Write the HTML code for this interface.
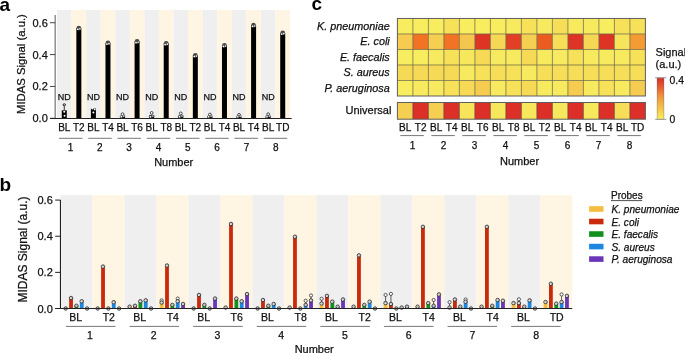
<!DOCTYPE html>
<html><head><meta charset="utf-8"><style>
html,body{margin:0;padding:0;background:#fff;width:685px;height:353px;overflow:hidden}
svg{display:block;font-family:"Liberation Sans", sans-serif;will-change:transform}
</style></head><body>
<svg width="685" height="353" viewBox="0 0 685 353">
<rect width="685" height="353" fill="#fff"/>
<rect x="57.00" y="10.00" width="14.58" height="108.30" fill="#efefef" />
<rect x="71.56" y="10.00" width="14.58" height="108.30" fill="#fff5e2" />
<rect x="86.12" y="10.00" width="14.58" height="108.30" fill="#efefef" />
<rect x="100.69" y="10.00" width="14.58" height="108.30" fill="#fff5e2" />
<rect x="115.25" y="10.00" width="14.58" height="108.30" fill="#efefef" />
<rect x="129.81" y="10.00" width="14.58" height="108.30" fill="#fff5e2" />
<rect x="144.38" y="10.00" width="14.58" height="108.30" fill="#efefef" />
<rect x="158.94" y="10.00" width="14.58" height="108.30" fill="#fff5e2" />
<rect x="173.50" y="10.00" width="14.58" height="108.30" fill="#efefef" />
<rect x="188.06" y="10.00" width="14.58" height="108.30" fill="#fff5e2" />
<rect x="202.62" y="10.00" width="14.58" height="108.30" fill="#efefef" />
<rect x="217.19" y="10.00" width="14.58" height="108.30" fill="#fff5e2" />
<rect x="231.75" y="10.00" width="14.58" height="108.30" fill="#efefef" />
<rect x="246.31" y="10.00" width="14.58" height="108.30" fill="#fff5e2" />
<rect x="260.88" y="10.00" width="14.58" height="108.30" fill="#efefef" />
<rect x="275.44" y="10.00" width="14.58" height="108.30" fill="#fff5e2" />
<line x1="55.20" y1="15.00" x2="55.20" y2="118.80" stroke="#888" stroke-width="1.4"/>
<line x1="50.00" y1="118.30" x2="55.20" y2="118.30" stroke="#444" stroke-width="1"/>
<text x="47.80" y="122.30" font-size="11" text-anchor="end" font-weight="normal" font-style="normal" fill="#111" stroke="#111" stroke-width="0.25" >0.0</text>
<line x1="50.00" y1="86.44" x2="55.20" y2="86.44" stroke="#444" stroke-width="1"/>
<text x="47.80" y="90.44" font-size="11" text-anchor="end" font-weight="normal" font-style="normal" fill="#111" stroke="#111" stroke-width="0.25" >0.2</text>
<line x1="50.00" y1="54.58" x2="55.20" y2="54.58" stroke="#444" stroke-width="1"/>
<text x="47.80" y="58.58" font-size="11" text-anchor="end" font-weight="normal" font-style="normal" fill="#111" stroke="#111" stroke-width="0.25" >0.4</text>
<line x1="50.00" y1="22.72" x2="55.20" y2="22.72" stroke="#444" stroke-width="1"/>
<text x="47.80" y="26.72" font-size="11" text-anchor="end" font-weight="normal" font-style="normal" fill="#111" stroke="#111" stroke-width="0.25" >0.6</text>
<rect x="61.78" y="110.33" width="5.00" height="7.97" fill="#000" />
<line x1="64.28" y1="110.33" x2="64.28" y2="104.60" stroke="#222" stroke-width="0.9"/>
<line x1="62.78" y1="104.60" x2="65.78" y2="104.60" stroke="#222" stroke-width="0.9"/>
<circle cx="64.28" cy="104.80" r="1.5" fill="#333" stroke="none" stroke-width="0"/>
<circle cx="64.28" cy="104.80" r="0.6" fill="#fff" stroke="none" stroke-width="0"/>
<circle cx="64.28" cy="111.80" r="1.0" fill="#fff" stroke="none" stroke-width="0"/>
<circle cx="64.58" cy="115.80" r="1.0" fill="#fff" stroke="none" stroke-width="0"/>
<rect x="76.34" y="28.14" width="5.00" height="90.16" fill="#000" />
<circle cx="78.84" cy="28.14" r="2.4" fill="#4a4a4a" stroke="none" stroke-width="0"/>
<circle cx="77.74" cy="29.24" r="0.85" fill="#fff" stroke="none" stroke-width="0"/>
<circle cx="79.94" cy="28.84" r="0.8" fill="#f4f4f4" stroke="none" stroke-width="0"/>
<text x="64.28" y="100.30" font-size="9" text-anchor="middle" font-weight="normal" font-style="normal" fill="#111" stroke="#111" stroke-width="0.25" >ND</text>
<text x="64.28" y="130.60" font-size="10" text-anchor="middle" font-weight="normal" font-style="normal" fill="#111" stroke="#111" stroke-width="0.25" >BL</text>
<text x="78.84" y="130.60" font-size="10" text-anchor="middle" font-weight="normal" font-style="normal" fill="#111" stroke="#111" stroke-width="0.25" >T2</text>
<line x1="59.01" y1="138.30" x2="82.51" y2="138.30" stroke="#777" stroke-width="1"/>
<text x="70.46" y="150.70" font-size="10" text-anchor="middle" font-weight="normal" font-style="normal" fill="#111" stroke="#111" stroke-width="0.25" >1</text>
<rect x="90.91" y="108.42" width="5.00" height="9.88" fill="#000" />
<circle cx="92.41" cy="108.60" r="1.0" fill="#fff" stroke="none" stroke-width="0"/>
<circle cx="94.71" cy="109.40" r="0.9" fill="#fff" stroke="none" stroke-width="0"/>
<circle cx="93.41" cy="112.60" r="1.0" fill="#fff" stroke="none" stroke-width="0"/>
<rect x="105.47" y="42.95" width="5.00" height="75.35" fill="#000" />
<circle cx="107.97" cy="42.95" r="2.4" fill="#4a4a4a" stroke="none" stroke-width="0"/>
<circle cx="106.87" cy="44.05" r="0.85" fill="#fff" stroke="none" stroke-width="0"/>
<circle cx="109.07" cy="43.65" r="0.8" fill="#f4f4f4" stroke="none" stroke-width="0"/>
<text x="93.41" y="100.30" font-size="9" text-anchor="middle" font-weight="normal" font-style="normal" fill="#111" stroke="#111" stroke-width="0.25" >ND</text>
<text x="93.41" y="130.60" font-size="10" text-anchor="middle" font-weight="normal" font-style="normal" fill="#111" stroke="#111" stroke-width="0.25" >BL</text>
<text x="107.97" y="130.60" font-size="10" text-anchor="middle" font-weight="normal" font-style="normal" fill="#111" stroke="#111" stroke-width="0.25" >T4</text>
<line x1="88.25" y1="138.30" x2="111.75" y2="138.30" stroke="#777" stroke-width="1"/>
<text x="99.79" y="150.70" font-size="10" text-anchor="middle" font-weight="normal" font-style="normal" fill="#111" stroke="#111" stroke-width="0.25" >2</text>
<rect x="120.03" y="116.39" width="5.00" height="1.91" fill="#000" />
<circle cx="122.53" cy="114.19" r="1.4" fill="#fff" stroke="#222" stroke-width="0.8"/>
<circle cx="121.33" cy="116.70" r="1.2" fill="#fff" stroke="#222" stroke-width="0.6"/>
<circle cx="123.73" cy="116.10" r="1.1" fill="#fff" stroke="#222" stroke-width="0.6"/>
<rect x="134.59" y="41.52" width="5.00" height="76.78" fill="#000" />
<circle cx="137.09" cy="41.52" r="2.4" fill="#4a4a4a" stroke="none" stroke-width="0"/>
<circle cx="135.99" cy="42.62" r="0.85" fill="#fff" stroke="none" stroke-width="0"/>
<circle cx="138.19" cy="42.22" r="0.8" fill="#f4f4f4" stroke="none" stroke-width="0"/>
<text x="122.53" y="100.30" font-size="9" text-anchor="middle" font-weight="normal" font-style="normal" fill="#111" stroke="#111" stroke-width="0.25" >ND</text>
<text x="122.53" y="130.60" font-size="10" text-anchor="middle" font-weight="normal" font-style="normal" fill="#111" stroke="#111" stroke-width="0.25" >BL</text>
<text x="137.09" y="130.60" font-size="10" text-anchor="middle" font-weight="normal" font-style="normal" fill="#111" stroke="#111" stroke-width="0.25" >T6</text>
<line x1="117.49" y1="138.30" x2="140.99" y2="138.30" stroke="#777" stroke-width="1"/>
<text x="129.13" y="150.70" font-size="10" text-anchor="middle" font-weight="normal" font-style="normal" fill="#111" stroke="#111" stroke-width="0.25" >3</text>
<rect x="149.16" y="115.11" width="5.00" height="3.19" fill="#000" />
<circle cx="151.66" cy="112.91" r="1.4" fill="#fff" stroke="#222" stroke-width="0.8"/>
<circle cx="150.46" cy="116.70" r="1.2" fill="#fff" stroke="#222" stroke-width="0.6"/>
<circle cx="152.86" cy="116.10" r="1.1" fill="#fff" stroke="#222" stroke-width="0.6"/>
<rect x="163.72" y="43.43" width="5.00" height="74.87" fill="#000" />
<circle cx="166.22" cy="43.43" r="2.4" fill="#4a4a4a" stroke="none" stroke-width="0"/>
<circle cx="165.12" cy="44.53" r="0.85" fill="#fff" stroke="none" stroke-width="0"/>
<circle cx="167.32" cy="44.13" r="0.8" fill="#f4f4f4" stroke="none" stroke-width="0"/>
<text x="151.66" y="100.30" font-size="9" text-anchor="middle" font-weight="normal" font-style="normal" fill="#111" stroke="#111" stroke-width="0.25" >ND</text>
<text x="151.66" y="130.60" font-size="10" text-anchor="middle" font-weight="normal" font-style="normal" fill="#111" stroke="#111" stroke-width="0.25" >BL</text>
<text x="166.22" y="130.60" font-size="10" text-anchor="middle" font-weight="normal" font-style="normal" fill="#111" stroke="#111" stroke-width="0.25" >T8</text>
<line x1="146.73" y1="138.30" x2="170.23" y2="138.30" stroke="#777" stroke-width="1"/>
<text x="158.46" y="150.70" font-size="10" text-anchor="middle" font-weight="normal" font-style="normal" fill="#111" stroke="#111" stroke-width="0.25" >4</text>
<rect x="178.28" y="115.59" width="5.00" height="2.71" fill="#000" />
<circle cx="180.78" cy="113.39" r="1.4" fill="#fff" stroke="#222" stroke-width="0.8"/>
<circle cx="179.58" cy="116.70" r="1.2" fill="#fff" stroke="#222" stroke-width="0.6"/>
<circle cx="181.98" cy="116.10" r="1.1" fill="#fff" stroke="#222" stroke-width="0.6"/>
<rect x="192.84" y="55.38" width="5.00" height="62.92" fill="#000" />
<circle cx="195.34" cy="55.38" r="2.4" fill="#4a4a4a" stroke="none" stroke-width="0"/>
<circle cx="194.24" cy="56.48" r="0.85" fill="#fff" stroke="none" stroke-width="0"/>
<circle cx="196.44" cy="56.08" r="0.8" fill="#f4f4f4" stroke="none" stroke-width="0"/>
<text x="180.78" y="100.30" font-size="9" text-anchor="middle" font-weight="normal" font-style="normal" fill="#111" stroke="#111" stroke-width="0.25" >ND</text>
<text x="180.78" y="130.60" font-size="10" text-anchor="middle" font-weight="normal" font-style="normal" fill="#111" stroke="#111" stroke-width="0.25" >BL</text>
<text x="195.34" y="130.60" font-size="10" text-anchor="middle" font-weight="normal" font-style="normal" fill="#111" stroke="#111" stroke-width="0.25" >T2</text>
<line x1="175.97" y1="138.30" x2="199.47" y2="138.30" stroke="#777" stroke-width="1"/>
<text x="187.80" y="150.70" font-size="10" text-anchor="middle" font-weight="normal" font-style="normal" fill="#111" stroke="#111" stroke-width="0.25" >5</text>
<rect x="207.41" y="116.71" width="5.00" height="1.59" fill="#000" />
<circle cx="209.91" cy="114.51" r="1.4" fill="#fff" stroke="#222" stroke-width="0.8"/>
<circle cx="208.71" cy="116.70" r="1.2" fill="#fff" stroke="#222" stroke-width="0.6"/>
<circle cx="211.11" cy="116.10" r="1.1" fill="#fff" stroke="#222" stroke-width="0.6"/>
<rect x="221.97" y="45.34" width="5.00" height="72.96" fill="#000" />
<circle cx="224.47" cy="45.34" r="2.4" fill="#4a4a4a" stroke="none" stroke-width="0"/>
<circle cx="223.37" cy="46.44" r="0.85" fill="#fff" stroke="none" stroke-width="0"/>
<circle cx="225.57" cy="46.04" r="0.8" fill="#f4f4f4" stroke="none" stroke-width="0"/>
<text x="209.91" y="100.30" font-size="9" text-anchor="middle" font-weight="normal" font-style="normal" fill="#111" stroke="#111" stroke-width="0.25" >ND</text>
<text x="209.91" y="130.60" font-size="10" text-anchor="middle" font-weight="normal" font-style="normal" fill="#111" stroke="#111" stroke-width="0.25" >BL</text>
<text x="224.47" y="130.60" font-size="10" text-anchor="middle" font-weight="normal" font-style="normal" fill="#111" stroke="#111" stroke-width="0.25" >T4</text>
<line x1="205.21" y1="138.30" x2="228.71" y2="138.30" stroke="#777" stroke-width="1"/>
<text x="217.13" y="150.70" font-size="10" text-anchor="middle" font-weight="normal" font-style="normal" fill="#111" stroke="#111" stroke-width="0.25" >6</text>
<rect x="236.53" y="117.03" width="5.00" height="1.27" fill="#000" />
<circle cx="239.03" cy="114.83" r="1.4" fill="#fff" stroke="#222" stroke-width="0.8"/>
<circle cx="237.83" cy="116.70" r="1.2" fill="#fff" stroke="#222" stroke-width="0.6"/>
<circle cx="240.23" cy="116.10" r="1.1" fill="#fff" stroke="#222" stroke-width="0.6"/>
<rect x="251.09" y="25.27" width="5.00" height="93.03" fill="#000" />
<circle cx="253.59" cy="25.27" r="2.4" fill="#4a4a4a" stroke="none" stroke-width="0"/>
<circle cx="252.49" cy="26.37" r="0.85" fill="#fff" stroke="none" stroke-width="0"/>
<circle cx="254.69" cy="25.97" r="0.8" fill="#f4f4f4" stroke="none" stroke-width="0"/>
<text x="239.03" y="100.30" font-size="9" text-anchor="middle" font-weight="normal" font-style="normal" fill="#111" stroke="#111" stroke-width="0.25" >ND</text>
<text x="239.03" y="130.60" font-size="10" text-anchor="middle" font-weight="normal" font-style="normal" fill="#111" stroke="#111" stroke-width="0.25" >BL</text>
<text x="253.59" y="130.60" font-size="10" text-anchor="middle" font-weight="normal" font-style="normal" fill="#111" stroke="#111" stroke-width="0.25" >T4</text>
<line x1="234.45" y1="138.30" x2="257.95" y2="138.30" stroke="#777" stroke-width="1"/>
<text x="246.47" y="150.70" font-size="10" text-anchor="middle" font-weight="normal" font-style="normal" fill="#111" stroke="#111" stroke-width="0.25" >7</text>
<rect x="265.66" y="116.39" width="5.00" height="1.91" fill="#000" />
<circle cx="268.16" cy="114.19" r="1.4" fill="#fff" stroke="#222" stroke-width="0.8"/>
<circle cx="266.96" cy="116.70" r="1.2" fill="#fff" stroke="#222" stroke-width="0.6"/>
<circle cx="269.36" cy="116.10" r="1.1" fill="#fff" stroke="#222" stroke-width="0.6"/>
<rect x="280.22" y="32.92" width="5.00" height="85.38" fill="#000" />
<circle cx="282.72" cy="32.92" r="2.4" fill="#4a4a4a" stroke="none" stroke-width="0"/>
<circle cx="281.62" cy="34.02" r="0.85" fill="#fff" stroke="none" stroke-width="0"/>
<circle cx="283.82" cy="33.62" r="0.8" fill="#f4f4f4" stroke="none" stroke-width="0"/>
<text x="268.16" y="100.30" font-size="9" text-anchor="middle" font-weight="normal" font-style="normal" fill="#111" stroke="#111" stroke-width="0.25" >ND</text>
<text x="268.16" y="130.60" font-size="10" text-anchor="middle" font-weight="normal" font-style="normal" fill="#111" stroke="#111" stroke-width="0.25" >BL</text>
<text x="282.72" y="130.60" font-size="10" text-anchor="middle" font-weight="normal" font-style="normal" fill="#111" stroke="#111" stroke-width="0.25" >TD</text>
<line x1="263.69" y1="138.30" x2="287.19" y2="138.30" stroke="#777" stroke-width="1"/>
<text x="275.81" y="150.70" font-size="10" text-anchor="middle" font-weight="normal" font-style="normal" fill="#111" stroke="#111" stroke-width="0.25" >8</text>
<line x1="50.00" y1="118.50" x2="291.70" y2="118.50" stroke="#222" stroke-width="1.2"/>
<text x="173.70" y="165.60" font-size="11" text-anchor="middle" font-weight="normal" font-style="normal" fill="#111" stroke="#111" stroke-width="0.25" >Number</text>
<text x="-0.50" y="10.60" font-size="19" text-anchor="start" font-weight="bold" font-style="normal" fill="#000" >a</text>
<text x="0.00" y="0.00" font-size="11.3" text-anchor="middle" font-weight="normal" font-style="normal" fill="#111" stroke="#111" stroke-width="0.25" transform="translate(25.3,64.1) rotate(-90)">MIDAS Signal (a.u.)</text>
<rect x="60.40" y="195.20" width="32.01" height="113.30" fill="#efefef" />
<rect x="92.39" y="195.20" width="32.01" height="113.30" fill="#fff5e2" />
<rect x="124.38" y="195.20" width="32.01" height="113.30" fill="#efefef" />
<rect x="156.37" y="195.20" width="32.01" height="113.30" fill="#fff5e2" />
<rect x="188.36" y="195.20" width="32.01" height="113.30" fill="#efefef" />
<rect x="220.35" y="195.20" width="32.01" height="113.30" fill="#fff5e2" />
<rect x="252.34" y="195.20" width="32.01" height="113.30" fill="#efefef" />
<rect x="284.33" y="195.20" width="32.01" height="113.30" fill="#fff5e2" />
<rect x="316.32" y="195.20" width="32.01" height="113.30" fill="#efefef" />
<rect x="348.31" y="195.20" width="32.01" height="113.30" fill="#fff5e2" />
<rect x="380.30" y="195.20" width="32.01" height="113.30" fill="#efefef" />
<rect x="412.29" y="195.20" width="32.01" height="113.30" fill="#fff5e2" />
<rect x="444.28" y="195.20" width="32.01" height="113.30" fill="#efefef" />
<rect x="476.27" y="195.20" width="32.01" height="113.30" fill="#fff5e2" />
<rect x="508.26" y="195.20" width="32.01" height="113.30" fill="#efefef" />
<rect x="540.25" y="195.20" width="32.01" height="113.30" fill="#fff5e2" />
<line x1="60.45" y1="200.10" x2="60.45" y2="309.00" stroke="#222" stroke-width="1.1"/>
<line x1="55.20" y1="308.50" x2="60.45" y2="308.50" stroke="#222" stroke-width="1"/>
<text x="52.80" y="312.50" font-size="11" text-anchor="end" font-weight="normal" font-style="normal" fill="#111" stroke="#111" stroke-width="0.25" >0.0</text>
<line x1="55.20" y1="272.36" x2="60.45" y2="272.36" stroke="#222" stroke-width="1"/>
<text x="52.80" y="276.36" font-size="11" text-anchor="end" font-weight="normal" font-style="normal" fill="#111" stroke="#111" stroke-width="0.25" >0.2</text>
<line x1="55.20" y1="236.22" x2="60.45" y2="236.22" stroke="#222" stroke-width="1"/>
<text x="52.80" y="240.22" font-size="11" text-anchor="end" font-weight="normal" font-style="normal" fill="#111" stroke="#111" stroke-width="0.25" >0.4</text>
<line x1="55.20" y1="200.08" x2="60.45" y2="200.08" stroke="#222" stroke-width="1"/>
<text x="52.80" y="204.08" font-size="11" text-anchor="end" font-weight="normal" font-style="normal" fill="#111" stroke="#111" stroke-width="0.25" >0.6</text>
<circle cx="65.69" cy="308.50" r="1.75" fill="#c4c4c4" stroke="#333" stroke-width="0.85"/>
<rect x="69.14" y="298.02" width="3.80" height="10.48" fill="#c92a0c" />
<circle cx="71.05" cy="298.02" r="1.75" fill="#c4c4c4" stroke="#333" stroke-width="0.85"/>
<circle cx="70.55" cy="298.32" r="0.7" fill="#e8e8e8" stroke="none" stroke-width="0"/>
<rect x="74.49" y="305.79" width="3.80" height="2.71" fill="#12901f" />
<circle cx="76.39" cy="305.79" r="1.75" fill="#c4c4c4" stroke="#333" stroke-width="0.85"/>
<rect x="79.84" y="301.27" width="3.80" height="7.23" fill="#1f86e0" />
<circle cx="81.74" cy="301.27" r="1.75" fill="#c4c4c4" stroke="#333" stroke-width="0.85"/>
<circle cx="81.24" cy="301.57" r="0.7" fill="#e8e8e8" stroke="none" stroke-width="0"/>
<circle cx="87.09" cy="308.50" r="1.75" fill="#c4c4c4" stroke="#333" stroke-width="0.85"/>
<circle cx="97.68" cy="308.50" r="1.75" fill="#c4c4c4" stroke="#333" stroke-width="0.85"/>
<rect x="101.13" y="266.58" width="3.80" height="41.92" fill="#c92a0c" />
<circle cx="103.03" cy="266.58" r="1.75" fill="#c4c4c4" stroke="#333" stroke-width="0.85"/>
<circle cx="102.53" cy="266.88" r="0.7" fill="#e8e8e8" stroke="none" stroke-width="0"/>
<circle cx="108.38" cy="308.50" r="1.75" fill="#c4c4c4" stroke="#333" stroke-width="0.85"/>
<rect x="111.83" y="302.18" width="3.80" height="6.32" fill="#1f86e0" />
<circle cx="113.73" cy="302.18" r="1.75" fill="#c4c4c4" stroke="#333" stroke-width="0.85"/>
<circle cx="113.23" cy="302.48" r="0.7" fill="#e8e8e8" stroke="none" stroke-width="0"/>
<circle cx="119.08" cy="308.50" r="1.75" fill="#c4c4c4" stroke="#333" stroke-width="0.85"/>
<rect x="127.78" y="306.69" width="3.80" height="1.81" fill="#f5bd3f" />
<circle cx="129.68" cy="306.69" r="1.75" fill="#c4c4c4" stroke="#333" stroke-width="0.85"/>
<rect x="133.12" y="305.79" width="3.80" height="2.71" fill="#c92a0c" />
<circle cx="135.03" cy="305.79" r="1.75" fill="#c4c4c4" stroke="#333" stroke-width="0.85"/>
<rect x="138.47" y="301.27" width="3.80" height="7.23" fill="#12901f" />
<circle cx="140.38" cy="301.27" r="1.75" fill="#c4c4c4" stroke="#333" stroke-width="0.85"/>
<circle cx="139.88" cy="301.57" r="0.7" fill="#e8e8e8" stroke="none" stroke-width="0"/>
<rect x="143.82" y="300.37" width="3.80" height="8.13" fill="#1f86e0" />
<circle cx="145.72" cy="300.37" r="1.75" fill="#c4c4c4" stroke="#333" stroke-width="0.85"/>
<circle cx="145.22" cy="300.67" r="0.7" fill="#e8e8e8" stroke="none" stroke-width="0"/>
<circle cx="151.07" cy="308.50" r="1.75" fill="#c4c4c4" stroke="#333" stroke-width="0.85"/>
<rect x="159.76" y="302.54" width="3.80" height="5.96" fill="#f5bd3f" />
<line x1="161.66" y1="302.54" x2="161.66" y2="300.37" stroke="#333" stroke-width="0.8"/>
<circle cx="161.66" cy="300.37" r="1.6" fill="#fff" stroke="#333" stroke-width="0.8"/>
<circle cx="161.66" cy="302.54" r="1.75" fill="#c4c4c4" stroke="#333" stroke-width="0.85"/>
<circle cx="161.16" cy="302.84" r="0.7" fill="#e8e8e8" stroke="none" stroke-width="0"/>
<rect x="165.11" y="265.49" width="3.80" height="43.01" fill="#c92a0c" />
<circle cx="167.01" cy="265.49" r="1.75" fill="#c4c4c4" stroke="#333" stroke-width="0.85"/>
<circle cx="166.51" cy="265.79" r="0.7" fill="#e8e8e8" stroke="none" stroke-width="0"/>
<rect x="170.46" y="304.89" width="3.80" height="3.61" fill="#12901f" />
<circle cx="172.36" cy="304.89" r="1.75" fill="#c4c4c4" stroke="#333" stroke-width="0.85"/>
<rect x="175.81" y="301.27" width="3.80" height="7.23" fill="#1f86e0" />
<line x1="177.71" y1="301.27" x2="177.71" y2="298.56" stroke="#333" stroke-width="0.8"/>
<circle cx="177.71" cy="298.56" r="1.6" fill="#fff" stroke="#333" stroke-width="0.8"/>
<circle cx="177.71" cy="301.27" r="1.75" fill="#c4c4c4" stroke="#333" stroke-width="0.85"/>
<circle cx="177.21" cy="301.57" r="0.7" fill="#e8e8e8" stroke="none" stroke-width="0"/>
<rect x="181.16" y="303.98" width="3.80" height="4.52" fill="#6a36b8" />
<circle cx="183.06" cy="303.98" r="1.75" fill="#c4c4c4" stroke="#333" stroke-width="0.85"/>
<circle cx="182.56" cy="304.28" r="0.7" fill="#e8e8e8" stroke="none" stroke-width="0"/>
<circle cx="193.66" cy="308.50" r="1.75" fill="#c4c4c4" stroke="#333" stroke-width="0.85"/>
<rect x="197.10" y="294.95" width="3.80" height="13.55" fill="#c92a0c" />
<circle cx="199.00" cy="294.95" r="1.75" fill="#c4c4c4" stroke="#333" stroke-width="0.85"/>
<circle cx="198.50" cy="295.25" r="0.7" fill="#e8e8e8" stroke="none" stroke-width="0"/>
<rect x="202.45" y="304.89" width="3.80" height="3.61" fill="#12901f" />
<circle cx="204.35" cy="304.89" r="1.75" fill="#c4c4c4" stroke="#333" stroke-width="0.85"/>
<circle cx="209.70" cy="308.50" r="1.75" fill="#c4c4c4" stroke="#333" stroke-width="0.85"/>
<rect x="213.15" y="298.56" width="3.80" height="9.94" fill="#6a36b8" />
<circle cx="215.05" cy="298.56" r="1.75" fill="#c4c4c4" stroke="#333" stroke-width="0.85"/>
<circle cx="214.55" cy="298.86" r="0.7" fill="#e8e8e8" stroke="none" stroke-width="0"/>
<rect x="223.75" y="307.60" width="3.80" height="0.90" fill="#f5bd3f" />
<circle cx="225.65" cy="307.60" r="1.75" fill="#c4c4c4" stroke="#333" stroke-width="0.85"/>
<rect x="229.09" y="223.93" width="3.80" height="84.57" fill="#c92a0c" />
<circle cx="231.00" cy="223.93" r="1.75" fill="#c4c4c4" stroke="#333" stroke-width="0.85"/>
<circle cx="230.50" cy="224.23" r="0.7" fill="#e8e8e8" stroke="none" stroke-width="0"/>
<rect x="234.44" y="298.56" width="3.80" height="9.94" fill="#12901f" />
<circle cx="236.34" cy="298.56" r="1.75" fill="#c4c4c4" stroke="#333" stroke-width="0.85"/>
<circle cx="235.84" cy="298.86" r="0.7" fill="#e8e8e8" stroke="none" stroke-width="0"/>
<rect x="239.79" y="301.27" width="3.80" height="7.23" fill="#1f86e0" />
<circle cx="241.69" cy="301.27" r="1.75" fill="#c4c4c4" stroke="#333" stroke-width="0.85"/>
<circle cx="241.19" cy="301.57" r="0.7" fill="#e8e8e8" stroke="none" stroke-width="0"/>
<rect x="245.14" y="294.04" width="3.80" height="14.46" fill="#6a36b8" />
<circle cx="247.04" cy="294.04" r="1.75" fill="#c4c4c4" stroke="#333" stroke-width="0.85"/>
<circle cx="246.54" cy="294.34" r="0.7" fill="#e8e8e8" stroke="none" stroke-width="0"/>
<circle cx="257.63" cy="308.50" r="1.75" fill="#c4c4c4" stroke="#333" stroke-width="0.85"/>
<rect x="261.08" y="300.01" width="3.80" height="8.49" fill="#c92a0c" />
<circle cx="262.98" cy="300.01" r="1.75" fill="#c4c4c4" stroke="#333" stroke-width="0.85"/>
<circle cx="262.48" cy="300.31" r="0.7" fill="#e8e8e8" stroke="none" stroke-width="0"/>
<rect x="266.44" y="305.79" width="3.80" height="2.71" fill="#12901f" />
<circle cx="268.33" cy="305.79" r="1.75" fill="#c4c4c4" stroke="#333" stroke-width="0.85"/>
<rect x="271.79" y="303.98" width="3.80" height="4.52" fill="#1f86e0" />
<circle cx="273.69" cy="303.98" r="1.75" fill="#c4c4c4" stroke="#333" stroke-width="0.85"/>
<circle cx="273.19" cy="304.28" r="0.7" fill="#e8e8e8" stroke="none" stroke-width="0"/>
<circle cx="279.03" cy="308.50" r="1.75" fill="#c4c4c4" stroke="#333" stroke-width="0.85"/>
<rect x="287.73" y="307.60" width="3.80" height="0.90" fill="#f5bd3f" />
<circle cx="289.62" cy="307.60" r="1.75" fill="#c4c4c4" stroke="#333" stroke-width="0.85"/>
<rect x="293.07" y="236.76" width="3.80" height="71.74" fill="#c92a0c" />
<circle cx="294.97" cy="236.76" r="1.75" fill="#c4c4c4" stroke="#333" stroke-width="0.85"/>
<circle cx="294.47" cy="237.06" r="0.7" fill="#e8e8e8" stroke="none" stroke-width="0"/>
<circle cx="300.32" cy="308.50" r="1.75" fill="#c4c4c4" stroke="#333" stroke-width="0.85"/>
<rect x="303.78" y="304.89" width="3.80" height="3.61" fill="#1f86e0" />
<line x1="305.68" y1="304.89" x2="305.68" y2="300.73" stroke="#333" stroke-width="0.8"/>
<circle cx="305.68" cy="300.73" r="1.6" fill="#fff" stroke="#333" stroke-width="0.8"/>
<circle cx="305.68" cy="304.89" r="1.75" fill="#c4c4c4" stroke="#333" stroke-width="0.85"/>
<rect x="309.12" y="300.37" width="3.80" height="8.13" fill="#6a36b8" />
<line x1="311.02" y1="300.37" x2="311.02" y2="295.49" stroke="#333" stroke-width="0.8"/>
<circle cx="311.02" cy="295.49" r="1.6" fill="#fff" stroke="#333" stroke-width="0.8"/>
<circle cx="311.02" cy="300.37" r="1.75" fill="#c4c4c4" stroke="#333" stroke-width="0.85"/>
<circle cx="310.52" cy="300.67" r="0.7" fill="#e8e8e8" stroke="none" stroke-width="0"/>
<rect x="319.71" y="303.44" width="3.80" height="5.06" fill="#f5bd3f" />
<line x1="321.61" y1="303.44" x2="321.61" y2="298.74" stroke="#333" stroke-width="0.8"/>
<circle cx="321.61" cy="298.74" r="1.6" fill="#fff" stroke="#333" stroke-width="0.8"/>
<circle cx="321.61" cy="303.44" r="1.75" fill="#c4c4c4" stroke="#333" stroke-width="0.85"/>
<circle cx="321.11" cy="303.74" r="0.7" fill="#e8e8e8" stroke="none" stroke-width="0"/>
<rect x="325.06" y="295.85" width="3.80" height="12.65" fill="#c92a0c" />
<circle cx="326.96" cy="295.85" r="1.75" fill="#c4c4c4" stroke="#333" stroke-width="0.85"/>
<circle cx="326.46" cy="296.15" r="0.7" fill="#e8e8e8" stroke="none" stroke-width="0"/>
<rect x="330.41" y="301.63" width="3.80" height="6.87" fill="#12901f" />
<circle cx="332.31" cy="301.63" r="1.75" fill="#c4c4c4" stroke="#333" stroke-width="0.85"/>
<circle cx="331.81" cy="301.93" r="0.7" fill="#e8e8e8" stroke="none" stroke-width="0"/>
<rect x="335.76" y="306.69" width="3.80" height="1.81" fill="#1f86e0" />
<circle cx="337.66" cy="306.69" r="1.75" fill="#c4c4c4" stroke="#333" stroke-width="0.85"/>
<rect x="341.11" y="299.46" width="3.80" height="9.04" fill="#6a36b8" />
<circle cx="343.01" cy="299.46" r="1.75" fill="#c4c4c4" stroke="#333" stroke-width="0.85"/>
<circle cx="342.51" cy="299.76" r="0.7" fill="#e8e8e8" stroke="none" stroke-width="0"/>
<rect x="351.70" y="306.69" width="3.80" height="1.81" fill="#f5bd3f" />
<circle cx="353.60" cy="306.69" r="1.75" fill="#c4c4c4" stroke="#333" stroke-width="0.85"/>
<rect x="357.05" y="255.37" width="3.80" height="53.13" fill="#c92a0c" />
<circle cx="358.95" cy="255.37" r="1.75" fill="#c4c4c4" stroke="#333" stroke-width="0.85"/>
<circle cx="358.45" cy="255.67" r="0.7" fill="#e8e8e8" stroke="none" stroke-width="0"/>
<rect x="362.40" y="304.89" width="3.80" height="3.61" fill="#12901f" />
<circle cx="364.30" cy="304.89" r="1.75" fill="#c4c4c4" stroke="#333" stroke-width="0.85"/>
<rect x="367.75" y="301.63" width="3.80" height="6.87" fill="#1f86e0" />
<circle cx="369.65" cy="301.63" r="1.75" fill="#c4c4c4" stroke="#333" stroke-width="0.85"/>
<circle cx="369.15" cy="301.93" r="0.7" fill="#e8e8e8" stroke="none" stroke-width="0"/>
<circle cx="375.00" cy="308.50" r="1.75" fill="#c4c4c4" stroke="#333" stroke-width="0.85"/>
<rect x="383.69" y="303.08" width="3.80" height="5.42" fill="#f5bd3f" />
<line x1="385.59" y1="303.08" x2="385.59" y2="294.95" stroke="#333" stroke-width="0.8"/>
<circle cx="385.59" cy="294.95" r="1.6" fill="#fff" stroke="#333" stroke-width="0.8"/>
<circle cx="385.59" cy="303.08" r="1.75" fill="#c4c4c4" stroke="#333" stroke-width="0.85"/>
<circle cx="385.09" cy="303.38" r="0.7" fill="#e8e8e8" stroke="none" stroke-width="0"/>
<rect x="389.04" y="303.98" width="3.80" height="4.52" fill="#c92a0c" />
<line x1="390.94" y1="303.98" x2="390.94" y2="293.86" stroke="#333" stroke-width="0.8"/>
<circle cx="390.94" cy="293.86" r="1.6" fill="#fff" stroke="#333" stroke-width="0.8"/>
<circle cx="390.94" cy="303.98" r="1.75" fill="#c4c4c4" stroke="#333" stroke-width="0.85"/>
<circle cx="390.44" cy="304.28" r="0.7" fill="#e8e8e8" stroke="none" stroke-width="0"/>
<circle cx="396.29" cy="308.50" r="1.75" fill="#c4c4c4" stroke="#333" stroke-width="0.85"/>
<rect x="399.75" y="307.60" width="3.80" height="0.90" fill="#1f86e0" />
<circle cx="401.64" cy="307.60" r="1.75" fill="#c4c4c4" stroke="#333" stroke-width="0.85"/>
<rect x="405.09" y="306.69" width="3.80" height="1.81" fill="#6a36b8" />
<circle cx="406.99" cy="306.69" r="1.75" fill="#c4c4c4" stroke="#333" stroke-width="0.85"/>
<rect x="415.69" y="306.69" width="3.80" height="1.81" fill="#f5bd3f" />
<circle cx="417.58" cy="306.69" r="1.75" fill="#c4c4c4" stroke="#333" stroke-width="0.85"/>
<rect x="421.03" y="226.82" width="3.80" height="81.68" fill="#c92a0c" />
<circle cx="422.93" cy="226.82" r="1.75" fill="#c4c4c4" stroke="#333" stroke-width="0.85"/>
<circle cx="422.43" cy="227.12" r="0.7" fill="#e8e8e8" stroke="none" stroke-width="0"/>
<rect x="426.38" y="303.08" width="3.80" height="5.42" fill="#12901f" />
<circle cx="428.28" cy="303.08" r="1.75" fill="#c4c4c4" stroke="#333" stroke-width="0.85"/>
<circle cx="427.78" cy="303.38" r="0.7" fill="#e8e8e8" stroke="none" stroke-width="0"/>
<rect x="431.74" y="305.79" width="3.80" height="2.71" fill="#1f86e0" />
<line x1="433.63" y1="305.79" x2="433.63" y2="300.01" stroke="#333" stroke-width="0.8"/>
<circle cx="433.63" cy="300.01" r="1.6" fill="#fff" stroke="#333" stroke-width="0.8"/>
<circle cx="433.63" cy="305.79" r="1.75" fill="#c4c4c4" stroke="#333" stroke-width="0.85"/>
<rect x="437.08" y="294.41" width="3.80" height="14.09" fill="#6a36b8" />
<circle cx="438.98" cy="294.41" r="1.75" fill="#c4c4c4" stroke="#333" stroke-width="0.85"/>
<circle cx="438.48" cy="294.71" r="0.7" fill="#e8e8e8" stroke="none" stroke-width="0"/>
<rect x="447.68" y="307.60" width="3.80" height="0.90" fill="#f5bd3f" />
<line x1="449.57" y1="307.60" x2="449.57" y2="302.18" stroke="#333" stroke-width="0.8"/>
<circle cx="449.57" cy="302.18" r="1.6" fill="#fff" stroke="#333" stroke-width="0.8"/>
<circle cx="449.57" cy="307.60" r="1.75" fill="#c4c4c4" stroke="#333" stroke-width="0.85"/>
<rect x="453.02" y="299.46" width="3.80" height="9.04" fill="#c92a0c" />
<circle cx="454.92" cy="299.46" r="1.75" fill="#c4c4c4" stroke="#333" stroke-width="0.85"/>
<circle cx="454.42" cy="299.76" r="0.7" fill="#e8e8e8" stroke="none" stroke-width="0"/>
<rect x="458.38" y="306.69" width="3.80" height="1.81" fill="#12901f" />
<circle cx="460.27" cy="306.69" r="1.75" fill="#c4c4c4" stroke="#333" stroke-width="0.85"/>
<rect x="463.73" y="301.63" width="3.80" height="6.87" fill="#1f86e0" />
<line x1="465.62" y1="301.63" x2="465.62" y2="299.46" stroke="#333" stroke-width="0.8"/>
<circle cx="465.62" cy="299.46" r="1.6" fill="#fff" stroke="#333" stroke-width="0.8"/>
<circle cx="465.62" cy="301.63" r="1.75" fill="#c4c4c4" stroke="#333" stroke-width="0.85"/>
<circle cx="465.12" cy="301.93" r="0.7" fill="#e8e8e8" stroke="none" stroke-width="0"/>
<circle cx="470.97" cy="308.50" r="1.75" fill="#c4c4c4" stroke="#333" stroke-width="0.85"/>
<rect x="479.66" y="306.69" width="3.80" height="1.81" fill="#f5bd3f" />
<circle cx="481.56" cy="306.69" r="1.75" fill="#c4c4c4" stroke="#333" stroke-width="0.85"/>
<rect x="485.01" y="226.82" width="3.80" height="81.68" fill="#c92a0c" />
<circle cx="486.91" cy="226.82" r="1.75" fill="#c4c4c4" stroke="#333" stroke-width="0.85"/>
<circle cx="486.41" cy="227.12" r="0.7" fill="#e8e8e8" stroke="none" stroke-width="0"/>
<rect x="490.36" y="305.79" width="3.80" height="2.71" fill="#12901f" />
<circle cx="492.26" cy="305.79" r="1.75" fill="#c4c4c4" stroke="#333" stroke-width="0.85"/>
<rect x="495.71" y="300.01" width="3.80" height="8.49" fill="#1f86e0" />
<circle cx="497.61" cy="300.01" r="1.75" fill="#c4c4c4" stroke="#333" stroke-width="0.85"/>
<circle cx="497.11" cy="300.31" r="0.7" fill="#e8e8e8" stroke="none" stroke-width="0"/>
<rect x="501.06" y="300.73" width="3.80" height="7.77" fill="#6a36b8" />
<circle cx="502.96" cy="300.73" r="1.75" fill="#c4c4c4" stroke="#333" stroke-width="0.85"/>
<circle cx="502.46" cy="301.03" r="0.7" fill="#e8e8e8" stroke="none" stroke-width="0"/>
<rect x="511.65" y="303.08" width="3.80" height="5.42" fill="#f5bd3f" />
<circle cx="513.55" cy="303.08" r="1.75" fill="#c4c4c4" stroke="#333" stroke-width="0.85"/>
<circle cx="513.05" cy="303.38" r="0.7" fill="#e8e8e8" stroke="none" stroke-width="0"/>
<rect x="517.00" y="303.08" width="3.80" height="5.42" fill="#c92a0c" />
<line x1="518.90" y1="303.08" x2="518.90" y2="299.28" stroke="#333" stroke-width="0.8"/>
<circle cx="518.90" cy="299.28" r="1.6" fill="#fff" stroke="#333" stroke-width="0.8"/>
<circle cx="518.90" cy="303.08" r="1.75" fill="#c4c4c4" stroke="#333" stroke-width="0.85"/>
<circle cx="518.40" cy="303.38" r="0.7" fill="#e8e8e8" stroke="none" stroke-width="0"/>
<rect x="522.36" y="306.69" width="3.80" height="1.81" fill="#12901f" />
<circle cx="524.25" cy="306.69" r="1.75" fill="#c4c4c4" stroke="#333" stroke-width="0.85"/>
<rect x="527.71" y="300.37" width="3.80" height="8.13" fill="#1f86e0" />
<circle cx="529.61" cy="300.37" r="1.75" fill="#c4c4c4" stroke="#333" stroke-width="0.85"/>
<circle cx="529.11" cy="300.67" r="0.7" fill="#e8e8e8" stroke="none" stroke-width="0"/>
<circle cx="534.96" cy="308.50" r="1.75" fill="#c4c4c4" stroke="#333" stroke-width="0.85"/>
<rect x="543.64" y="301.99" width="3.80" height="6.51" fill="#f5bd3f" />
<circle cx="545.54" cy="301.99" r="1.75" fill="#c4c4c4" stroke="#333" stroke-width="0.85"/>
<circle cx="545.04" cy="302.29" r="0.7" fill="#e8e8e8" stroke="none" stroke-width="0"/>
<rect x="549.00" y="283.74" width="3.80" height="24.76" fill="#c92a0c" />
<circle cx="550.89" cy="283.74" r="1.75" fill="#c4c4c4" stroke="#333" stroke-width="0.85"/>
<circle cx="550.39" cy="284.04" r="0.7" fill="#e8e8e8" stroke="none" stroke-width="0"/>
<rect x="554.35" y="303.62" width="3.80" height="4.88" fill="#12901f" />
<circle cx="556.25" cy="303.62" r="1.75" fill="#c4c4c4" stroke="#333" stroke-width="0.85"/>
<circle cx="555.75" cy="303.92" r="0.7" fill="#e8e8e8" stroke="none" stroke-width="0"/>
<rect x="559.70" y="301.99" width="3.80" height="6.51" fill="#1f86e0" />
<line x1="561.60" y1="301.99" x2="561.60" y2="294.41" stroke="#333" stroke-width="0.8"/>
<circle cx="561.60" cy="294.41" r="1.6" fill="#fff" stroke="#333" stroke-width="0.8"/>
<circle cx="561.60" cy="301.99" r="1.75" fill="#c4c4c4" stroke="#333" stroke-width="0.85"/>
<circle cx="561.10" cy="302.29" r="0.7" fill="#e8e8e8" stroke="none" stroke-width="0"/>
<rect x="565.05" y="295.85" width="3.80" height="12.65" fill="#6a36b8" />
<circle cx="566.95" cy="295.85" r="1.75" fill="#c4c4c4" stroke="#333" stroke-width="0.85"/>
<circle cx="566.45" cy="296.15" r="0.7" fill="#e8e8e8" stroke="none" stroke-width="0"/>
<line x1="55.20" y1="308.50" x2="572.20" y2="308.50" stroke="#222" stroke-width="1.2"/>
<text x="75.59" y="320.90" font-size="10.5" text-anchor="middle" font-weight="normal" font-style="normal" fill="#111" stroke="#111" stroke-width="0.25" >BL</text>
<text x="108.78" y="320.90" font-size="10.5" text-anchor="middle" font-weight="normal" font-style="normal" fill="#111" stroke="#111" stroke-width="0.25" >T2</text>
<line x1="65.95" y1="326.40" x2="115.45" y2="326.40" stroke="#777" stroke-width="1"/>
<text x="89.90" y="338.90" font-size="10.5" text-anchor="middle" font-weight="normal" font-style="normal" fill="#111" stroke="#111" stroke-width="0.25" >1</text>
<text x="139.57" y="320.90" font-size="10.5" text-anchor="middle" font-weight="normal" font-style="normal" fill="#111" stroke="#111" stroke-width="0.25" >BL</text>
<text x="172.76" y="320.90" font-size="10.5" text-anchor="middle" font-weight="normal" font-style="normal" fill="#111" stroke="#111" stroke-width="0.25" >T4</text>
<line x1="129.55" y1="326.40" x2="179.05" y2="326.40" stroke="#777" stroke-width="1"/>
<text x="153.64" y="338.90" font-size="10.5" text-anchor="middle" font-weight="normal" font-style="normal" fill="#111" stroke="#111" stroke-width="0.25" >2</text>
<text x="203.55" y="320.90" font-size="10.5" text-anchor="middle" font-weight="normal" font-style="normal" fill="#111" stroke="#111" stroke-width="0.25" >BL</text>
<text x="236.75" y="320.90" font-size="10.5" text-anchor="middle" font-weight="normal" font-style="normal" fill="#111" stroke="#111" stroke-width="0.25" >T6</text>
<line x1="193.15" y1="326.40" x2="242.65" y2="326.40" stroke="#777" stroke-width="1"/>
<text x="217.38" y="338.90" font-size="10.5" text-anchor="middle" font-weight="normal" font-style="normal" fill="#111" stroke="#111" stroke-width="0.25" >3</text>
<text x="267.53" y="320.90" font-size="10.5" text-anchor="middle" font-weight="normal" font-style="normal" fill="#111" stroke="#111" stroke-width="0.25" >BL</text>
<text x="300.72" y="320.90" font-size="10.5" text-anchor="middle" font-weight="normal" font-style="normal" fill="#111" stroke="#111" stroke-width="0.25" >T8</text>
<line x1="256.75" y1="326.40" x2="306.25" y2="326.40" stroke="#777" stroke-width="1"/>
<text x="281.12" y="338.90" font-size="10.5" text-anchor="middle" font-weight="normal" font-style="normal" fill="#111" stroke="#111" stroke-width="0.25" >4</text>
<text x="331.51" y="320.90" font-size="10.5" text-anchor="middle" font-weight="normal" font-style="normal" fill="#111" stroke="#111" stroke-width="0.25" >BL</text>
<text x="364.70" y="320.90" font-size="10.5" text-anchor="middle" font-weight="normal" font-style="normal" fill="#111" stroke="#111" stroke-width="0.25" >T2</text>
<line x1="320.35" y1="326.40" x2="369.85" y2="326.40" stroke="#777" stroke-width="1"/>
<text x="344.86" y="338.90" font-size="10.5" text-anchor="middle" font-weight="normal" font-style="normal" fill="#111" stroke="#111" stroke-width="0.25" >5</text>
<text x="395.49" y="320.90" font-size="10.5" text-anchor="middle" font-weight="normal" font-style="normal" fill="#111" stroke="#111" stroke-width="0.25" >BL</text>
<text x="428.68" y="320.90" font-size="10.5" text-anchor="middle" font-weight="normal" font-style="normal" fill="#111" stroke="#111" stroke-width="0.25" >T4</text>
<line x1="383.95" y1="326.40" x2="433.45" y2="326.40" stroke="#777" stroke-width="1"/>
<text x="408.60" y="338.90" font-size="10.5" text-anchor="middle" font-weight="normal" font-style="normal" fill="#111" stroke="#111" stroke-width="0.25" >6</text>
<text x="459.47" y="320.90" font-size="10.5" text-anchor="middle" font-weight="normal" font-style="normal" fill="#111" stroke="#111" stroke-width="0.25" >BL</text>
<text x="492.66" y="320.90" font-size="10.5" text-anchor="middle" font-weight="normal" font-style="normal" fill="#111" stroke="#111" stroke-width="0.25" >T4</text>
<line x1="447.55" y1="326.40" x2="497.05" y2="326.40" stroke="#777" stroke-width="1"/>
<text x="472.34" y="338.90" font-size="10.5" text-anchor="middle" font-weight="normal" font-style="normal" fill="#111" stroke="#111" stroke-width="0.25" >7</text>
<text x="523.46" y="320.90" font-size="10.5" text-anchor="middle" font-weight="normal" font-style="normal" fill="#111" stroke="#111" stroke-width="0.25" >BL</text>
<text x="556.64" y="320.90" font-size="10.5" text-anchor="middle" font-weight="normal" font-style="normal" fill="#111" stroke="#111" stroke-width="0.25" >TD</text>
<line x1="511.15" y1="326.40" x2="560.65" y2="326.40" stroke="#777" stroke-width="1"/>
<text x="536.08" y="338.90" font-size="10.5" text-anchor="middle" font-weight="normal" font-style="normal" fill="#111" stroke="#111" stroke-width="0.25" >8</text>
<text x="314.20" y="353.00" font-size="11" text-anchor="middle" font-weight="normal" font-style="normal" fill="#111" stroke="#111" stroke-width="0.25" >Number</text>
<text x="-0.50" y="191.20" font-size="19" text-anchor="start" font-weight="bold" font-style="normal" fill="#000" >b</text>
<text x="0.00" y="0.00" font-size="12" text-anchor="middle" font-weight="normal" font-style="normal" fill="#111" stroke="#111" stroke-width="0.25" transform="translate(27,249.5) rotate(-90)">MIDAS Signal (a.u.)</text>
<text x="611.00" y="199.00" font-size="10" text-anchor="start" font-weight="normal" font-style="normal" fill="#111" stroke="#111" stroke-width="0.25" >Probes</text>
<line x1="611.00" y1="200.60" x2="642.20" y2="200.60" stroke="#222" stroke-width="0.8"/>
<rect x="589.10" y="206.20" width="14.40" height="5.60" fill="#f5bd3f" />
<text x="611.50" y="213.20" font-size="10.1" text-anchor="start" font-weight="normal" font-style="italic" fill="#111" stroke="#111" stroke-width="0.25" >K. pneumoniae</text>
<rect x="589.10" y="218.72" width="14.40" height="5.60" fill="#c92a0c" />
<text x="611.50" y="225.72" font-size="10.1" text-anchor="start" font-weight="normal" font-style="italic" fill="#111" stroke="#111" stroke-width="0.25" >E. coli</text>
<rect x="589.10" y="231.24" width="14.40" height="5.60" fill="#12901f" />
<text x="611.50" y="238.24" font-size="10.1" text-anchor="start" font-weight="normal" font-style="italic" fill="#111" stroke="#111" stroke-width="0.25" >E. faecalis</text>
<rect x="589.10" y="243.76" width="14.40" height="5.60" fill="#1f86e0" />
<text x="611.50" y="250.76" font-size="10.1" text-anchor="start" font-weight="normal" font-style="italic" fill="#111" stroke="#111" stroke-width="0.25" >S. aureus</text>
<rect x="589.10" y="256.28" width="14.40" height="5.60" fill="#6a36b8" />
<text x="611.50" y="263.28" font-size="10.1" text-anchor="start" font-weight="normal" font-style="italic" fill="#111" stroke="#111" stroke-width="0.25" >P. aeruginosa</text>
<rect x="397.40" y="18.45" width="15.50" height="15.51" fill="#f7ed5f" />
<rect x="412.90" y="18.45" width="15.50" height="15.51" fill="#f7ed5f" />
<rect x="428.40" y="18.45" width="15.50" height="15.51" fill="#f7ed5f" />
<rect x="443.90" y="18.45" width="15.50" height="15.51" fill="#f6e159" />
<rect x="459.40" y="18.45" width="15.50" height="15.51" fill="#f7ed5f" />
<rect x="474.90" y="18.45" width="15.50" height="15.51" fill="#f7ed5f" />
<rect x="490.40" y="18.45" width="15.50" height="15.51" fill="#f7ed5f" />
<rect x="505.90" y="18.45" width="15.50" height="15.51" fill="#f7ea5e" />
<rect x="521.40" y="18.45" width="15.50" height="15.51" fill="#f6e159" />
<rect x="536.90" y="18.45" width="15.50" height="15.51" fill="#f7ea5e" />
<rect x="552.40" y="18.45" width="15.50" height="15.51" fill="#f6de58" />
<rect x="567.90" y="18.45" width="15.50" height="15.51" fill="#f7ea5e" />
<rect x="583.40" y="18.45" width="15.50" height="15.51" fill="#f7ea5e" />
<rect x="598.90" y="18.45" width="15.50" height="15.51" fill="#f7ed5f" />
<rect x="614.40" y="18.45" width="15.50" height="15.51" fill="#f6e159" />
<rect x="629.90" y="18.45" width="15.50" height="15.51" fill="#f6e159" />
<rect x="397.40" y="33.96" width="15.50" height="15.51" fill="#f5cb50" />
<rect x="412.90" y="33.96" width="15.50" height="15.51" fill="#f17323" />
<rect x="428.40" y="33.96" width="15.50" height="15.51" fill="#f5cf52" />
<rect x="443.90" y="33.96" width="15.50" height="15.51" fill="#f17323" />
<rect x="459.40" y="33.96" width="15.50" height="15.51" fill="#f5c64d" />
<rect x="474.90" y="33.96" width="15.50" height="15.51" fill="#de3425" />
<rect x="490.40" y="33.96" width="15.50" height="15.51" fill="#f6d655" />
<rect x="505.90" y="33.96" width="15.50" height="15.51" fill="#e24024" />
<rect x="521.40" y="33.96" width="15.50" height="15.51" fill="#f5cf52" />
<rect x="536.90" y="33.96" width="15.50" height="15.51" fill="#eb5c21" />
<rect x="552.40" y="33.96" width="15.50" height="15.51" fill="#f6de58" />
<rect x="567.90" y="33.96" width="15.50" height="15.51" fill="#de3425" />
<rect x="583.40" y="33.96" width="15.50" height="15.51" fill="#f6d655" />
<rect x="598.90" y="33.96" width="15.50" height="15.51" fill="#de3425" />
<rect x="614.40" y="33.96" width="15.50" height="15.51" fill="#f6e45b" />
<rect x="629.90" y="33.96" width="15.50" height="15.51" fill="#f49b34" />
<rect x="397.40" y="49.47" width="15.50" height="15.51" fill="#f7ed5f" />
<rect x="412.90" y="49.47" width="15.50" height="15.51" fill="#f7ed5f" />
<rect x="428.40" y="49.47" width="15.50" height="15.51" fill="#f7ea5e" />
<rect x="443.90" y="49.47" width="15.50" height="15.51" fill="#f6e159" />
<rect x="459.40" y="49.47" width="15.50" height="15.51" fill="#f7e75c" />
<rect x="474.90" y="49.47" width="15.50" height="15.51" fill="#f6da56" />
<rect x="490.40" y="49.47" width="15.50" height="15.51" fill="#f7ea5e" />
<rect x="505.90" y="49.47" width="15.50" height="15.51" fill="#f7ea5e" />
<rect x="521.40" y="49.47" width="15.50" height="15.51" fill="#f6da56" />
<rect x="536.90" y="49.47" width="15.50" height="15.51" fill="#f7ea5e" />
<rect x="552.40" y="49.47" width="15.50" height="15.51" fill="#f7ea5e" />
<rect x="567.90" y="49.47" width="15.50" height="15.51" fill="#f6e159" />
<rect x="583.40" y="49.47" width="15.50" height="15.51" fill="#f7ea5e" />
<rect x="598.90" y="49.47" width="15.50" height="15.51" fill="#f7ea5e" />
<rect x="614.40" y="49.47" width="15.50" height="15.51" fill="#f7ea5e" />
<rect x="629.90" y="49.47" width="15.50" height="15.51" fill="#f6e159" />
<rect x="397.40" y="64.98" width="15.50" height="15.51" fill="#f6da56" />
<rect x="412.90" y="64.98" width="15.50" height="15.51" fill="#f6da56" />
<rect x="428.40" y="64.98" width="15.50" height="15.51" fill="#f6da56" />
<rect x="443.90" y="64.98" width="15.50" height="15.51" fill="#f6da56" />
<rect x="459.40" y="64.98" width="15.50" height="15.51" fill="#f7ea5e" />
<rect x="474.90" y="64.98" width="15.50" height="15.51" fill="#f6e159" />
<rect x="490.40" y="64.98" width="15.50" height="15.51" fill="#f6de58" />
<rect x="505.90" y="64.98" width="15.50" height="15.51" fill="#f6e159" />
<rect x="521.40" y="64.98" width="15.50" height="15.51" fill="#f7ea5e" />
<rect x="536.90" y="64.98" width="15.50" height="15.51" fill="#f6de58" />
<rect x="552.40" y="64.98" width="15.50" height="15.51" fill="#f6de58" />
<rect x="567.90" y="64.98" width="15.50" height="15.51" fill="#f6de58" />
<rect x="583.40" y="64.98" width="15.50" height="15.51" fill="#f6de58" />
<rect x="598.90" y="64.98" width="15.50" height="15.51" fill="#f6de58" />
<rect x="614.40" y="64.98" width="15.50" height="15.51" fill="#f6de58" />
<rect x="629.90" y="64.98" width="15.50" height="15.51" fill="#f6de58" />
<rect x="397.40" y="80.49" width="15.50" height="15.51" fill="#f7ed5f" />
<rect x="412.90" y="80.49" width="15.50" height="15.51" fill="#f7ea5e" />
<rect x="428.40" y="80.49" width="15.50" height="15.51" fill="#f7ea5e" />
<rect x="443.90" y="80.49" width="15.50" height="15.51" fill="#f6e159" />
<rect x="459.40" y="80.49" width="15.50" height="15.51" fill="#f6da56" />
<rect x="474.90" y="80.49" width="15.50" height="15.51" fill="#f5cb50" />
<rect x="490.40" y="80.49" width="15.50" height="15.51" fill="#f7ea5e" />
<rect x="505.90" y="80.49" width="15.50" height="15.51" fill="#f6e159" />
<rect x="521.40" y="80.49" width="15.50" height="15.51" fill="#f6da56" />
<rect x="536.90" y="80.49" width="15.50" height="15.51" fill="#f7ea5e" />
<rect x="552.40" y="80.49" width="15.50" height="15.51" fill="#f7ea5e" />
<rect x="567.90" y="80.49" width="15.50" height="15.51" fill="#f5cb50" />
<rect x="583.40" y="80.49" width="15.50" height="15.51" fill="#f7ea5e" />
<rect x="598.90" y="80.49" width="15.50" height="15.51" fill="#f6e159" />
<rect x="614.40" y="80.49" width="15.50" height="15.51" fill="#f7ea5e" />
<rect x="629.90" y="80.49" width="15.50" height="15.51" fill="#f5cb50" />
<line x1="412.90" y1="18.45" x2="412.90" y2="96.00" stroke="#6e6a48" stroke-width="0.75"/>
<line x1="428.40" y1="18.45" x2="428.40" y2="96.00" stroke="#6e6a48" stroke-width="0.75"/>
<line x1="443.90" y1="18.45" x2="443.90" y2="96.00" stroke="#6e6a48" stroke-width="0.75"/>
<line x1="459.40" y1="18.45" x2="459.40" y2="96.00" stroke="#6e6a48" stroke-width="0.75"/>
<line x1="474.90" y1="18.45" x2="474.90" y2="96.00" stroke="#6e6a48" stroke-width="0.75"/>
<line x1="490.40" y1="18.45" x2="490.40" y2="96.00" stroke="#6e6a48" stroke-width="0.75"/>
<line x1="505.90" y1="18.45" x2="505.90" y2="96.00" stroke="#6e6a48" stroke-width="0.75"/>
<line x1="521.40" y1="18.45" x2="521.40" y2="96.00" stroke="#6e6a48" stroke-width="0.75"/>
<line x1="536.90" y1="18.45" x2="536.90" y2="96.00" stroke="#6e6a48" stroke-width="0.75"/>
<line x1="552.40" y1="18.45" x2="552.40" y2="96.00" stroke="#6e6a48" stroke-width="0.75"/>
<line x1="567.90" y1="18.45" x2="567.90" y2="96.00" stroke="#6e6a48" stroke-width="0.75"/>
<line x1="583.40" y1="18.45" x2="583.40" y2="96.00" stroke="#6e6a48" stroke-width="0.75"/>
<line x1="598.90" y1="18.45" x2="598.90" y2="96.00" stroke="#6e6a48" stroke-width="0.75"/>
<line x1="614.40" y1="18.45" x2="614.40" y2="96.00" stroke="#6e6a48" stroke-width="0.75"/>
<line x1="629.90" y1="18.45" x2="629.90" y2="96.00" stroke="#6e6a48" stroke-width="0.75"/>
<line x1="397.40" y1="33.96" x2="645.40" y2="33.96" stroke="#6e6a48" stroke-width="0.75"/>
<line x1="397.40" y1="49.47" x2="645.40" y2="49.47" stroke="#6e6a48" stroke-width="0.75"/>
<line x1="397.40" y1="64.98" x2="645.40" y2="64.98" stroke="#6e6a48" stroke-width="0.75"/>
<line x1="397.40" y1="80.49" x2="645.40" y2="80.49" stroke="#6e6a48" stroke-width="0.75"/>
<rect x="397.40" y="18.45" width="248.00" height="77.55" fill="none" stroke="#5e5e5e" stroke-width="1"/>
<rect x="397.40" y="102.50" width="15.50" height="16.70" fill="#f5cf52" />
<rect x="412.90" y="102.50" width="15.50" height="16.70" fill="#dc2f28" />
<rect x="428.40" y="102.50" width="15.50" height="16.70" fill="#f5cf52" />
<rect x="443.90" y="102.50" width="15.50" height="16.70" fill="#dc2f28" />
<rect x="459.40" y="102.50" width="15.50" height="16.70" fill="#f6e45b" />
<rect x="474.90" y="102.50" width="15.50" height="16.70" fill="#dc2f28" />
<rect x="490.40" y="102.50" width="15.50" height="16.70" fill="#f7e75c" />
<rect x="505.90" y="102.50" width="15.50" height="16.70" fill="#dc2f28" />
<rect x="521.40" y="102.50" width="15.50" height="16.70" fill="#f7e75c" />
<rect x="536.90" y="102.50" width="15.50" height="16.70" fill="#dc2f28" />
<rect x="552.40" y="102.50" width="15.50" height="16.70" fill="#f7e75c" />
<rect x="567.90" y="102.50" width="15.50" height="16.70" fill="#dc2f28" />
<rect x="583.40" y="102.50" width="15.50" height="16.70" fill="#f7e85d" />
<rect x="598.90" y="102.50" width="15.50" height="16.70" fill="#dc2f28" />
<rect x="614.40" y="102.50" width="15.50" height="16.70" fill="#f6de58" />
<rect x="629.90" y="102.50" width="15.50" height="16.70" fill="#dc2f28" />
<line x1="412.90" y1="102.50" x2="412.90" y2="119.20" stroke="#6a4a3a" stroke-width="0.75"/>
<line x1="428.40" y1="102.50" x2="428.40" y2="119.20" stroke="#6a4a3a" stroke-width="0.75"/>
<line x1="443.90" y1="102.50" x2="443.90" y2="119.20" stroke="#6a4a3a" stroke-width="0.75"/>
<line x1="459.40" y1="102.50" x2="459.40" y2="119.20" stroke="#6a4a3a" stroke-width="0.75"/>
<line x1="474.90" y1="102.50" x2="474.90" y2="119.20" stroke="#6a4a3a" stroke-width="0.75"/>
<line x1="490.40" y1="102.50" x2="490.40" y2="119.20" stroke="#6a4a3a" stroke-width="0.75"/>
<line x1="505.90" y1="102.50" x2="505.90" y2="119.20" stroke="#6a4a3a" stroke-width="0.75"/>
<line x1="521.40" y1="102.50" x2="521.40" y2="119.20" stroke="#6a4a3a" stroke-width="0.75"/>
<line x1="536.90" y1="102.50" x2="536.90" y2="119.20" stroke="#6a4a3a" stroke-width="0.75"/>
<line x1="552.40" y1="102.50" x2="552.40" y2="119.20" stroke="#6a4a3a" stroke-width="0.75"/>
<line x1="567.90" y1="102.50" x2="567.90" y2="119.20" stroke="#6a4a3a" stroke-width="0.75"/>
<line x1="583.40" y1="102.50" x2="583.40" y2="119.20" stroke="#6a4a3a" stroke-width="0.75"/>
<line x1="598.90" y1="102.50" x2="598.90" y2="119.20" stroke="#6a4a3a" stroke-width="0.75"/>
<line x1="614.40" y1="102.50" x2="614.40" y2="119.20" stroke="#6a4a3a" stroke-width="0.75"/>
<line x1="629.90" y1="102.50" x2="629.90" y2="119.20" stroke="#6a4a3a" stroke-width="0.75"/>
<rect x="397.40" y="102.50" width="248.00" height="16.70" fill="none" stroke="#5e5e5e" stroke-width="1"/>
<text x="389.70" y="29.80" font-size="10.8" text-anchor="end" font-weight="normal" font-style="italic" fill="#111" stroke="#111" stroke-width="0.25" >K. pneumoniae</text>
<text x="389.70" y="45.32" font-size="10.8" text-anchor="end" font-weight="normal" font-style="italic" fill="#111" stroke="#111" stroke-width="0.25" >E. coli</text>
<text x="389.70" y="60.82" font-size="10.8" text-anchor="end" font-weight="normal" font-style="italic" fill="#111" stroke="#111" stroke-width="0.25" >E. faecalis</text>
<text x="389.70" y="76.33" font-size="10.8" text-anchor="end" font-weight="normal" font-style="italic" fill="#111" stroke="#111" stroke-width="0.25" >S. aureus</text>
<text x="389.70" y="91.84" font-size="10.8" text-anchor="end" font-weight="normal" font-style="italic" fill="#111" stroke="#111" stroke-width="0.25" >P. aeruginosa</text>
<text x="391.40" y="114.30" font-size="11" text-anchor="end" font-weight="normal" font-style="normal" fill="#111" stroke="#111" stroke-width="0.25" >Universal</text>
<text x="405.15" y="131.30" font-size="10" text-anchor="middle" font-weight="normal" font-style="normal" fill="#111" stroke="#111" stroke-width="0.25" >BL</text>
<text x="420.65" y="131.30" font-size="10" text-anchor="middle" font-weight="normal" font-style="normal" fill="#111" stroke="#111" stroke-width="0.25" >T2</text>
<line x1="400.35" y1="135.60" x2="423.85" y2="135.60" stroke="#777" stroke-width="1"/>
<text x="412.50" y="148.60" font-size="10" text-anchor="middle" font-weight="normal" font-style="normal" fill="#111" stroke="#111" stroke-width="0.25" >1</text>
<text x="436.15" y="131.30" font-size="10" text-anchor="middle" font-weight="normal" font-style="normal" fill="#111" stroke="#111" stroke-width="0.25" >BL</text>
<text x="451.65" y="131.30" font-size="10" text-anchor="middle" font-weight="normal" font-style="normal" fill="#111" stroke="#111" stroke-width="0.25" >T4</text>
<line x1="431.35" y1="135.60" x2="454.85" y2="135.60" stroke="#777" stroke-width="1"/>
<text x="443.50" y="148.60" font-size="10" text-anchor="middle" font-weight="normal" font-style="normal" fill="#111" stroke="#111" stroke-width="0.25" >2</text>
<text x="467.15" y="131.30" font-size="10" text-anchor="middle" font-weight="normal" font-style="normal" fill="#111" stroke="#111" stroke-width="0.25" >BL</text>
<text x="482.65" y="131.30" font-size="10" text-anchor="middle" font-weight="normal" font-style="normal" fill="#111" stroke="#111" stroke-width="0.25" >T6</text>
<line x1="462.35" y1="135.60" x2="485.85" y2="135.60" stroke="#777" stroke-width="1"/>
<text x="474.50" y="148.60" font-size="10" text-anchor="middle" font-weight="normal" font-style="normal" fill="#111" stroke="#111" stroke-width="0.25" >3</text>
<text x="498.15" y="131.30" font-size="10" text-anchor="middle" font-weight="normal" font-style="normal" fill="#111" stroke="#111" stroke-width="0.25" >BL</text>
<text x="513.65" y="131.30" font-size="10" text-anchor="middle" font-weight="normal" font-style="normal" fill="#111" stroke="#111" stroke-width="0.25" >T8</text>
<line x1="493.35" y1="135.60" x2="516.85" y2="135.60" stroke="#777" stroke-width="1"/>
<text x="505.50" y="148.60" font-size="10" text-anchor="middle" font-weight="normal" font-style="normal" fill="#111" stroke="#111" stroke-width="0.25" >4</text>
<text x="529.15" y="131.30" font-size="10" text-anchor="middle" font-weight="normal" font-style="normal" fill="#111" stroke="#111" stroke-width="0.25" >BL</text>
<text x="544.65" y="131.30" font-size="10" text-anchor="middle" font-weight="normal" font-style="normal" fill="#111" stroke="#111" stroke-width="0.25" >T2</text>
<line x1="524.35" y1="135.60" x2="547.85" y2="135.60" stroke="#777" stroke-width="1"/>
<text x="536.50" y="148.60" font-size="10" text-anchor="middle" font-weight="normal" font-style="normal" fill="#111" stroke="#111" stroke-width="0.25" >5</text>
<text x="560.15" y="131.30" font-size="10" text-anchor="middle" font-weight="normal" font-style="normal" fill="#111" stroke="#111" stroke-width="0.25" >BL</text>
<text x="575.65" y="131.30" font-size="10" text-anchor="middle" font-weight="normal" font-style="normal" fill="#111" stroke="#111" stroke-width="0.25" >T4</text>
<line x1="555.35" y1="135.60" x2="578.85" y2="135.60" stroke="#777" stroke-width="1"/>
<text x="567.50" y="148.60" font-size="10" text-anchor="middle" font-weight="normal" font-style="normal" fill="#111" stroke="#111" stroke-width="0.25" >6</text>
<text x="591.15" y="131.30" font-size="10" text-anchor="middle" font-weight="normal" font-style="normal" fill="#111" stroke="#111" stroke-width="0.25" >BL</text>
<text x="606.65" y="131.30" font-size="10" text-anchor="middle" font-weight="normal" font-style="normal" fill="#111" stroke="#111" stroke-width="0.25" >T4</text>
<line x1="586.35" y1="135.60" x2="609.85" y2="135.60" stroke="#777" stroke-width="1"/>
<text x="598.50" y="148.60" font-size="10" text-anchor="middle" font-weight="normal" font-style="normal" fill="#111" stroke="#111" stroke-width="0.25" >7</text>
<text x="622.15" y="131.30" font-size="10" text-anchor="middle" font-weight="normal" font-style="normal" fill="#111" stroke="#111" stroke-width="0.25" >BL</text>
<text x="637.65" y="131.30" font-size="10" text-anchor="middle" font-weight="normal" font-style="normal" fill="#111" stroke="#111" stroke-width="0.25" >TD</text>
<line x1="617.35" y1="135.60" x2="640.85" y2="135.60" stroke="#777" stroke-width="1"/>
<text x="629.50" y="148.60" font-size="10" text-anchor="middle" font-weight="normal" font-style="normal" fill="#111" stroke="#111" stroke-width="0.25" >8</text>
<text x="519.60" y="165.20" font-size="11" text-anchor="middle" font-weight="normal" font-style="normal" fill="#111" stroke="#111" stroke-width="0.25" >Number</text>
<text x="311.50" y="10.20" font-size="19" text-anchor="start" font-weight="bold" font-style="normal" fill="#000" >c</text>
<defs><linearGradient id="cb" x1="0" y1="1" x2="0" y2="0"><stop offset="0" stop-color="#f8ee5a"/><stop offset="0.5" stop-color="#f0a040"/><stop offset="1" stop-color="#dc2a26"/></linearGradient></defs>
<rect x="657.10" y="77.80" width="6.80" height="41.50" fill="url(#cb)" stroke="#000" stroke-opacity="0.35" stroke-width="0.6"/>
<line x1="655.20" y1="77.80" x2="666.30" y2="77.80" stroke="#999" stroke-width="1"/>
<line x1="655.20" y1="119.30" x2="666.30" y2="119.30" stroke="#999" stroke-width="1"/>
<text x="669.50" y="83.60" font-size="10.4" text-anchor="start" font-weight="normal" font-style="normal" fill="#111" stroke="#111" stroke-width="0.25" >0.4</text>
<text x="669.50" y="122.70" font-size="10.4" text-anchor="start" font-weight="normal" font-style="normal" fill="#111" stroke="#111" stroke-width="0.25" >0</text>
<text x="655.60" y="55.90" font-size="11" text-anchor="start" font-weight="normal" font-style="normal" fill="#111" stroke="#111" stroke-width="0.25" >Signal</text>
<text x="655.60" y="68.10" font-size="11" text-anchor="start" font-weight="normal" font-style="normal" fill="#111" stroke="#111" stroke-width="0.25" >(a.u.)</text>
</svg></body></html>
